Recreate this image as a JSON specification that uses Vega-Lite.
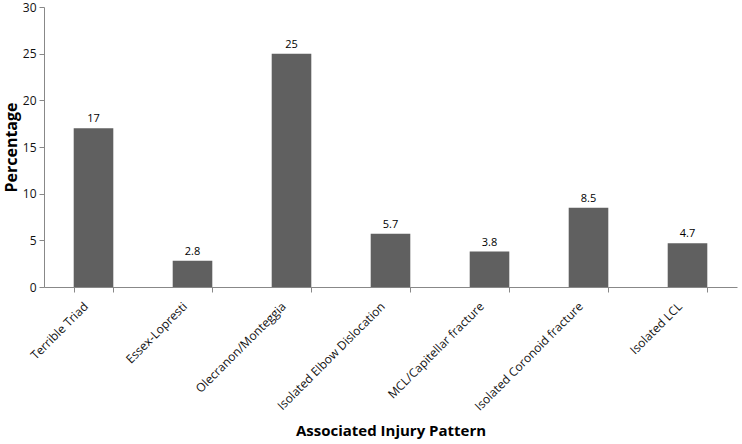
{
  "$schema": "https://vega.github.io/schema/vega-lite/v6.json",
  "autosize": "none",
  "width": 693,
  "height": 280,
  "padding": {"left": 44, "top": 7, "right": 5, "bottom": 157},
  "background": "white",
  "config": {
    "view": {"stroke": null},
    "font": "Open Sans",
    "axis": {"grid": false, "domainColor": "#888888", "tickColor": "#888888", "labelColor": "#111111", "titleColor": "#000000", "labelFont": "Open Sans", "titleFont": "Open Sans"}
  },
  "data": {
    "values": [
      {"pattern": "Terrible Triad", "pct": 17},
      {"pattern": "Essex-Lopresti", "pct": 2.8},
      {"pattern": "Olecranon/Monteggia", "pct": 25},
      {"pattern": "Isolated Elbow Dislocation", "pct": 5.7},
      {"pattern": "MCL/Capitellar fracture", "pct": 3.8},
      {"pattern": "Isolated Coronoid fracture", "pct": 8.5},
      {"pattern": "Isolated LCL", "pct": 4.7}
    ]
  },
  "encoding": {
    "x": {
      "field": "pattern", "type": "nominal", "sort": null,
      "scale": {"paddingInner": 0.6, "paddingOuter": 0.3},
      "axis": {"title": "Associated Injury Pattern", "titleFontSize": 15, "titleFontWeight": "bold", "titleY": 148, "titleBaseline": "alphabetic", "labelAngle": -45, "labelAlign": "right", "labelBaseline": "middle", "labelFontSize": 12, "labelPadding": 12, "labelOffset": -8, "tickSize": 5, "tickBand": "extent"}
    },
    "y": {
      "field": "pct", "type": "quantitative",
      "scale": {"domain": [0, 30]},
      "axis": {"title": "Percentage", "titleFontSize": 16, "titleFontWeight": "bold", "titleX": -41, "titleBaseline": "top", "values": [0, 5, 10, 15, 20, 25, 30], "labelFontSize": 12, "tickSize": 5, "labelPadding": 3}
    }
  },
  "layer": [
    {"mark": {"type": "bar", "color": "#606060"}},
    {"mark": {"type": "text", "dy": -9, "fontSize": 11, "color": "#000000"}, "encoding": {"text": {"field": "pct", "type": "quantitative"}}}
  ]
}
